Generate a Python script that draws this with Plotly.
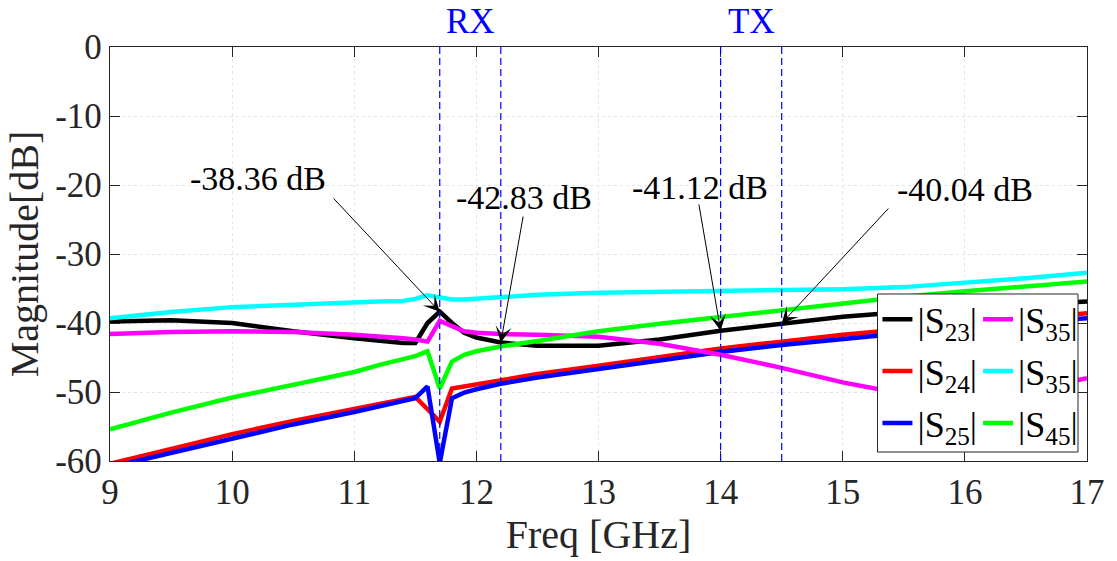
import plotly.graph_objects as go

# Frequency sweep (GHz)
freq = [9.0, 9.5, 10.0, 10.5, 11.0, 11.2, 11.4, 11.5, 11.6, 11.7, 11.8, 11.9,
        12.0, 12.2, 12.5, 13.0, 13.5, 14.0, 14.5, 15.0, 15.5, 16.0, 16.5, 17.0]

# Isolation magnitudes (dB)
s23 = [-39.8, -39.6, -40.0, -41.2, -42.2, -42.6, -42.9, -42.9, -40.0, -38.36, -40.0, -41.4,
       -42.1, -42.83, -43.3, -43.3, -42.4, -41.12, -40.04, -39.1, -38.4, -37.9, -37.4, -36.9]
s24 = [-60.4, -58.2, -56.1, -54.2, -52.4, -51.7, -51.0, -50.7, -52.5, -54.3, -49.5, -49.2,
       -48.9, -48.3, -47.4, -46.2, -44.9, -43.7, -42.7, -41.7, -40.9, -40.1, -39.4, -38.6]
s25 = [-60.9, -58.8, -56.7, -54.7, -52.9, -52.1, -51.3, -50.9, -49.2, -60.3, -50.9, -50.1,
       -49.6, -48.8, -47.9, -46.7, -45.4, -44.2, -43.2, -42.3, -41.4, -40.6, -39.9, -39.3]
s35_m = [-41.6, -41.3, -41.2, -41.3, -41.7, -41.9, -42.2, -42.4, -42.7, -39.7, -40.5, -41.2,
         -41.4, -41.6, -41.7, -42.0, -43.0, -44.6, -46.5, -48.6, -50.3, -50.8, -49.8, -48.0]
s35_c = [-39.3, -38.4, -37.7, -37.3, -37.0, -36.9, -36.8, -36.5, -36.0, -36.3, -36.6, -36.6,
         -36.5, -36.3, -35.9, -35.6, -35.5, -35.4, -35.3, -35.1, -34.8, -34.2, -33.5, -32.7]
s45 = [-55.4, -53.0, -50.8, -48.9, -47.1, -46.1, -45.3, -44.8, -44.1, -49.5, -45.6, -44.6,
       -44.1, -43.4, -42.6, -41.2, -40.1, -39.1, -38.1, -37.1, -36.2, -35.4, -34.7, -34.0]

# Axis ticks
x_ticks = [9, 10, 11, 12, 13, 14, 15, 16, 17]
x_tick_labels = ["9", "10", "11", "12", "13", "14", "15", "16", "17"]
y_ticks = [0, -10, -20, -30, -40, -50, -60]
y_tick_labels = ["0", "-10", "-20", "-30", "-40", "-50", "-60"]

# Band edges (GHz) and band names
band_edges = [11.7, 12.2, 14.0, 14.5]
band_names = ["RX", "TX"]

# Marked readings on |S23|
marker_f = [11.7, 12.2, 14.0, 14.5]
marker_db = [-38.36, -42.83, -41.12, -40.04]

SERIF = "Liberation Serif, Times New Roman, serif"
AX = "#262626"

fig = go.Figure()

series = [
    ("|S<sub>23</sub>|", s23, "#000000", "legend"),
    ("|S<sub>24</sub>|", s24, "#ff0000", "legend"),
    ("|S<sub>25</sub>|", s25, "#0000ff", "legend"),
    ("|S<sub>35</sub>|", s35_m, "#ff00ff", "legend2"),
    ("|S<sub>35</sub>|", s35_c, "#00ffff", "legend2"),
    ("|S<sub>45</sub>|", s45, "#00ff00", "legend2"),
]
for i, (name, vals, color, leg) in enumerate(series):
    fig.add_trace(go.Scatter(
        x=freq, y=vals, mode="lines", name=name,
        line=dict(color=color, width=4.5),
        legend=leg, legendgroup=f"g{i}",
    ))

# Band edge markers
for fe in band_edges:
    fig.add_vline(x=fe, line=dict(color="#0000ff", width=1.2, dash="7px,4px"), layer="above")

# Band names above the plot
for k, name in enumerate(band_names):
    xc = (band_edges[2 * k] + band_edges[2 * k + 1]) / 2
    fig.add_annotation(x=xc, y=1.0, xref="x", yref="paper", yanchor="bottom", yshift=4,
                       text=name, showarrow=False,
                       font=dict(family=SERIF, size=35, color="#0000ff"))

# Reading labels and their arrows
label_text_pos = [(10.21, -18.99), (12.393, -21.74), (13.828, -20.29), (16.004, -20.72)]
arrow_tail_pos = [(10.82, -21.74), (12.385, -24.35), (13.82, -22.6), (15.385, -23.19)]
for fm, dbm, (tx, ty), (ax_, ay_) in zip(marker_f, marker_db, label_text_pos, arrow_tail_pos):
    fig.add_annotation(x=tx, y=ty, xref="x", yref="y", text=f"{dbm:.2f} dB",
                       showarrow=False, font=dict(family=SERIF, size=34, color="#000000"))
    fig.add_annotation(x=fm, y=dbm, xref="x", yref="y", ax=ax_, ay=ay_,
                       axref="x", ayref="y", text="", showarrow=True,
                       arrowhead=3, arrowsize=2.7, arrowwidth=1, arrowcolor="#000000",
                       standoff=0)

# Legend frame
fig.add_shape(type="rect", xref="paper", yref="paper",
              x0=0.7856, x1=0.9908, y0=0.0217, y1=0.4034,
              fillcolor="#ffffff", line=dict(color=AX, width=1), layer="above")

leg_common = dict(xanchor="left", yanchor="top", bgcolor="rgba(0,0,0,0)",
                  borderwidth=0, tracegroupgap=2,
                  font=dict(family=SERIF, size=36, color="#000000"))
fig.update_layout(
    legend=dict(x=0.7855, y=0.4145, **leg_common),
    legend2=dict(x=0.8885, y=0.4145, **leg_common),
)

axis_common = dict(
    showline=True, linecolor=AX, linewidth=1.3, mirror="ticks",
    ticks="inside", ticklen=10, tickcolor=AX, tickwidth=1.3,
    showgrid=True, gridcolor="#e4e4e4", griddash="dot", gridwidth=1,
    zeroline=False,
    tickfont=dict(family=SERIF, size=35, color=AX),
)
fig.update_xaxes(range=[9, 17], tickmode="array", tickvals=x_ticks, ticktext=x_tick_labels,
                 title=dict(text="Freq [GHz]", font=dict(family=SERIF, size=40, color=AX), standoff=8),
                 **axis_common)
fig.update_yaxes(range=[-60, 0], tickmode="array", tickvals=y_ticks, ticktext=y_tick_labels,
                 title=dict(text="Magnitude[dB]", font=dict(family=SERIF, size=40, color=AX), standoff=4),
                 **axis_common)

fig.update_layout(
    width=1117, height=561,
    margin=dict(l=110, r=26, t=47, b=100),
    paper_bgcolor="#ffffff", plot_bgcolor="#ffffff",
    showlegend=True,
)

fig.write_html("out.html")
